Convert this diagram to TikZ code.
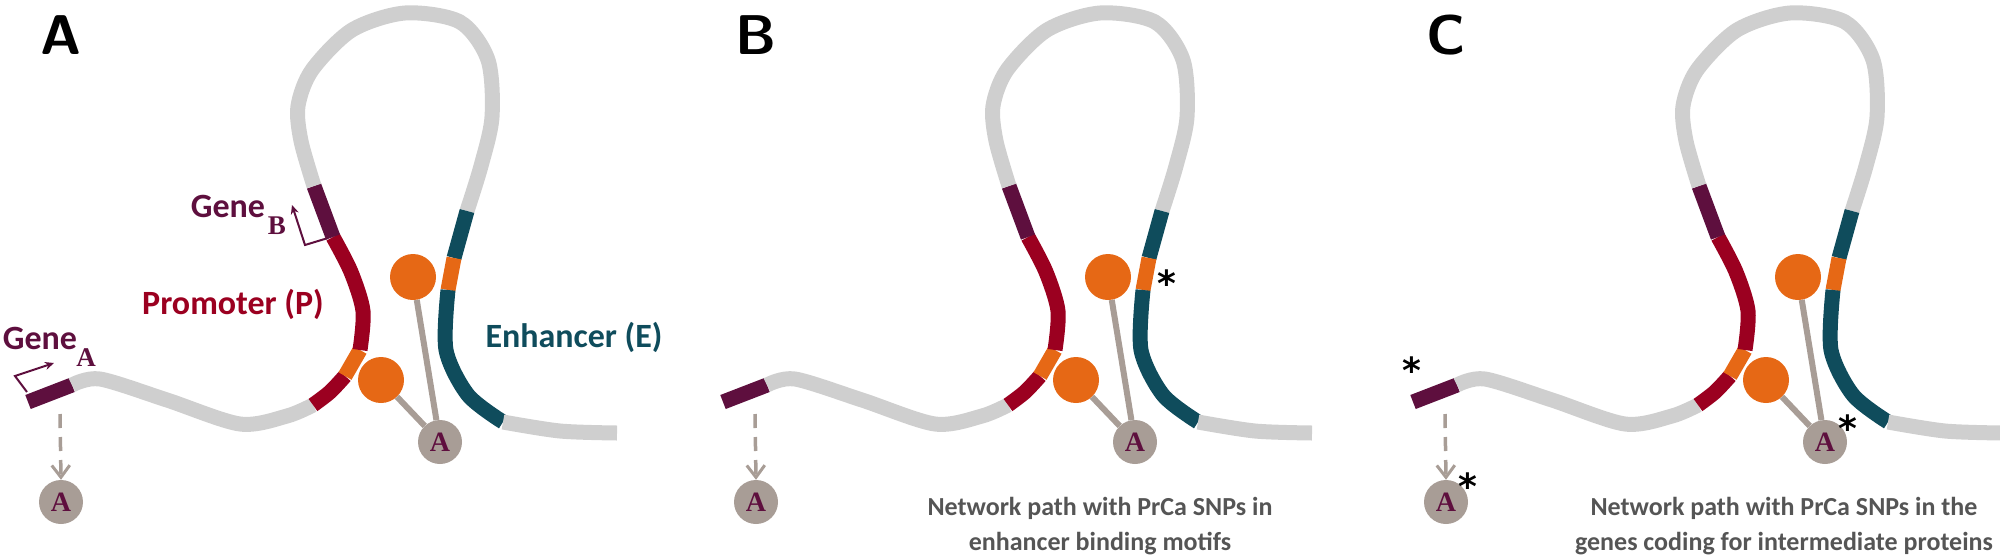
\documentclass[tikz,border=0pt]{standalone}
\usepackage{fontspec}
\setmainfont{Carlito}
\newfontfamily\serifbf{Liberation Serif}
\newfontfamily\starfont{DejaVu Sans}
\usetikzlibrary{arrows.meta,positioning}
\definecolor{chrom}{HTML}{CFCFCF}
\definecolor{genecol}{HTML}{5E0F3E}
\definecolor{promcol}{HTML}{9B0020}
\definecolor{orgcol}{HTML}{E66815}
\definecolor{enhcol}{HTML}{0F4C5C}
\definecolor{protcol}{HTML}{A89D96}
\definecolor{txtcol}{HTML}{555555}
\tikzset{
  dna/.style={line width=15pt,line cap=butt},
  orb/.style={circle,fill=orgcol,minimum size=46pt,inner sep=0pt},
  prot/.style={circle,fill=protcol,minimum size=44pt,inner sep=0pt,text=genecol,
    font=\serifbf\bfseries\fontsize{28}{28}\selectfont},
  link/.style={draw=protcol,line width=6pt},
  panel/.style={font=\sffamily\bfseries\fontsize{56}{56}\selectfont},
  lab/.style={font=\bfseries\fontsize{34}{34}\selectfont},
  note/.style={font=\bfseries\fontsize{26}{35}\selectfont,text=txtcol,align=center},
  star/.style={font=\starfont\bfseries\fontsize{36}{36}\selectfont,inner sep=0pt},
}
\newcommand\subl[1]{{\serifbf\bfseries\fontsize{27}{27}\selectfont #1}}
\begin{document}
\begin{tikzpicture}[x=1pt,y=-1pt]
  \useasboundingbox (0,0) rectangle (2000,555);

  \foreach \p/\dx in {A/0,B/695,C/1385}{
    \begin{scope}[xshift=\dx pt]
      % chromatin
      \draw[dna,genecol] (28,402) -- (72,385);
      \draw[dna,chrom] plot[smooth] coordinates {(72,385) (100,379) (167,400) (240,424) (287,416) (313,405)};
      \draw[dna,promcol] plot[smooth] coordinates {(313,405) (330,392) (345,376)};
      \draw[dna,orgcol] (345,376) -- (360,350);
      \draw[dna,promcol] plot[smooth] coordinates {(360,350) (363,311) (351,272) (333,237)};
      \draw[dna,genecol] (333,237) -- (314,186);
      \draw[dna,chrom] plot[smooth] coordinates {(314,186) (301,141) (298,106) (312,70) (352,30) (405,13) (460,22) (488,60) (492,117) (481,166) (467,211)};
      \draw[dna,enhcol] (467,211) -- (454,258);
      \draw[dna,orgcol] (454,258) -- (448,290);
      \draw[dna,enhcol] plot[smooth] coordinates {(448,290) (446,350) (468,395) (503,422)};
      \draw[dna,chrom] plot[smooth] coordinates {(503,422) (560,431) (617,433)};

      % proteins
      \node[orb] (top\p) at (413,277) {};
      \node[orb] (bot\p) at (381,380) {};
      \node[prot] (hub\p) at (440,442) {A};
      \draw[link] (top\p) -- (hub\p);
      \draw[link] (bot\p) -- (hub\p);
      \node[prot] (out\p) at (61,502) {A};
      \coordinate (src\p) at (60,414);
      \draw[protcol,line width=3.5pt,dash pattern=on 14pt off 9pt,-{Straight Barb[length=12pt,width=18pt,line width=3pt]}]
        (src\p) -- (out\p.north);

      \node[panel] (tag\p) at (61,35) {\p};
    \end{scope}
  }

  % labels of panel A
  \coordinate (gA0) at (27,392);
  \coordinate (gA1) at (15,376);
  \coordinate (gA2) at (54,363);
  \draw[genecol,line width=2pt,-{Stealth[length=9pt,width=8pt]}] (gA0) -- (gA1) -- (gA2);
  \coordinate (gB0) at (328,238);
  \coordinate (gB1) at (305,245);
  \coordinate (gB2) at (292,205);
  \draw[genecol,line width=2pt,-{Stealth[length=9pt,width=8pt]}] (gB0) -- (gB1) -- (gB2);
  \node[lab,text=genecol] (geneA) at (40,338) {Gene};
  \node[text=genecol,inner sep=0pt] (subA) at (86,358) {\subl{A}};
  \node[lab,text=genecol] (geneB) at (228,206) {Gene};
  \node[text=genecol,inner sep=0pt] (subB) at (277,226) {\subl{B}};
  \node[lab,text=promcol] (prom) at (233,304) {Promoter (P)};
  \node[lab,text=enhcol] (enh) at (574,337) {Enhancer (E)};

  % SNP marks
  \node[star] (snpB) at (1167,283) {*};
  \node[star] (snpC1) at (1412,370) {*};
  \node[star] (snpC2) at (1468,486) {*};
  \node[star] (snpC3) at (1848,428) {*};

  % notes
  \node[note] (noteB) at (1100,526) {Network path with PrCa SNPs in\\enhancer binding motifs};
  \node[note] (noteC) at (1784,526) {Network path with PrCa SNPs in the\\genes coding for intermediate proteins};
\end{tikzpicture}
\end{document}
